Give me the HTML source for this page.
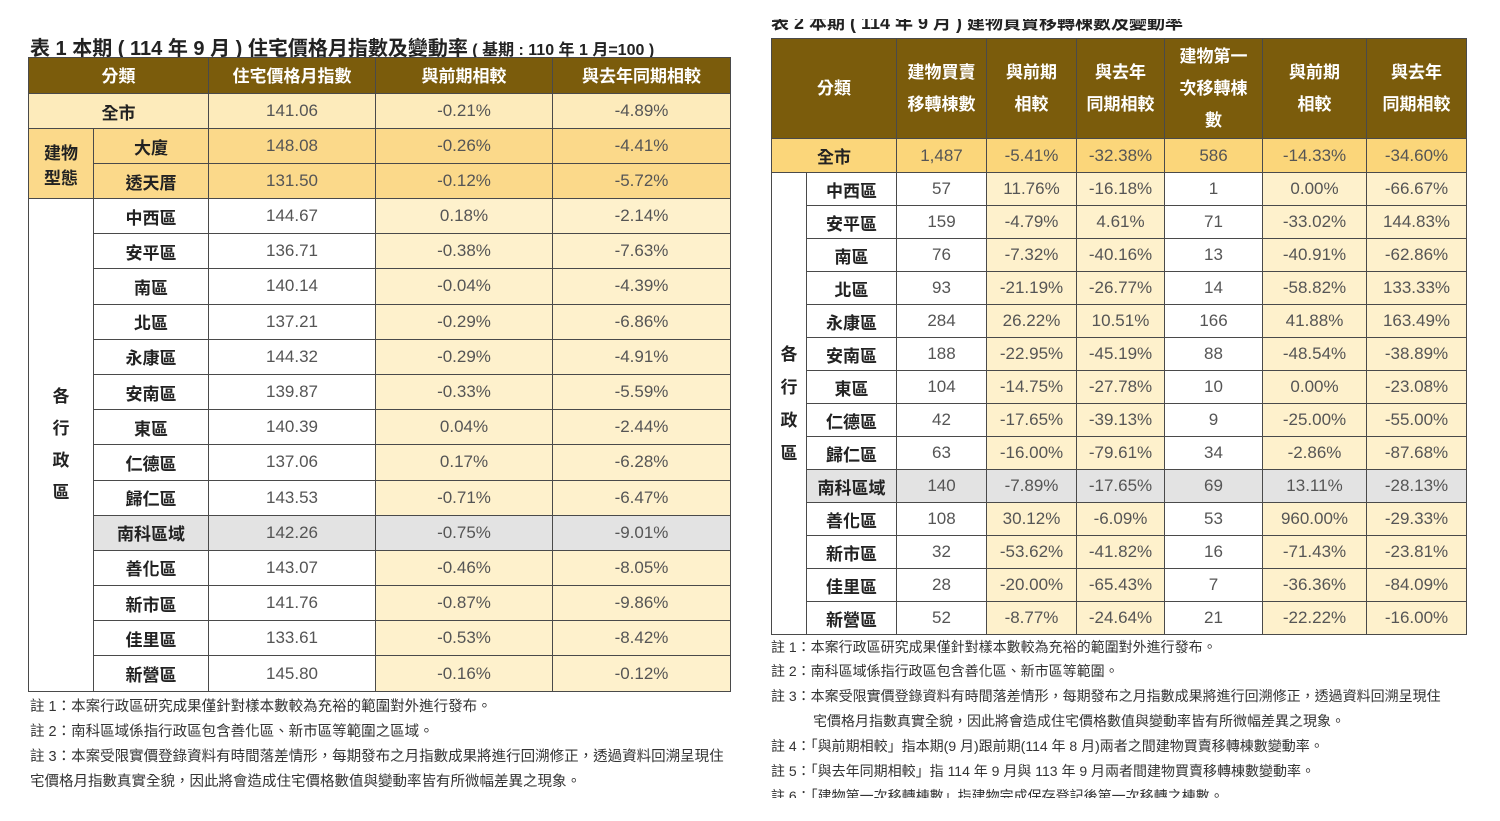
<!DOCTYPE html>
<html><head><meta charset="utf-8">
<style>
body{margin:0;width:1500px;height:821px;background:#fff;position:relative;overflow:hidden;font-family:"Liberation Sans","Noto Sans CJK TC",sans-serif}
.t{position:absolute;border-collapse:collapse;table-layout:fixed}
.t td{border:1px solid #4a4a4a;padding:0;text-align:center;vertical-align:middle;font-size:17px;color:#555;font-family:"Liberation Sans Narrow","Liberation Sans","Noto Sans CJK TC",sans-serif;white-space:nowrap}
.t td.h{background:#7b5c0c;color:#fff;font-weight:bold;font-size:17px;font-family:"Liberation Sans","Noto Sans CJK TC",sans-serif;line-height:32px}
.t td.l{color:#222;font-weight:bold;font-family:"Liberation Sans","Noto Sans CJK TC",sans-serif;font-size:17px}
.c{background:#fef1cc}
.y1{background:#fdebbb}
.y2{background:#fbd98a}
.y3{background:#fbd67a}
.g{background:#e3e3e3}
.ttl{position:absolute;font-weight:bold;color:#222;font-size:20px;white-space:nowrap}
.n{position:absolute;font-size:14.5px;color:#333;white-space:nowrap}
.n2{font-size:14px}
</style></head><body>
<div class="ttl" style="left:30px;top:32px">表 1 本期 ( 114 年 9 月 ) 住宅價格月指數及變動率<span style="font-size:16px"> ( 基期 : 110 年 1 月=100 )</span></div>
<div style="position:absolute;left:771px;top:19px;height:16px;width:500px;overflow:hidden"><div class="ttl" style="left:0;top:-10px;font-size:18px">表 2 本期 ( 114 年 9 月 ) 建物買賣移轉棟數及變動率</div></div>

<table class="t" id="t1" style="left:28px;top:57px;width:702px">
<colgroup><col style="width:65px"><col style="width:115px"><col style="width:167px"><col style="width:177px"><col style="width:178px"></colgroup>
<tbody id="t1b"><tr style="height:34px"><td class="h" colspan="2" style="padding-top:3px">分類</td><td class="h" style="padding-top:3px">住宅價格月指數</td><td class="h" style="padding-top:3px">與前期相較</td><td class="h" style="padding-top:3px">與去年同期相較</td></tr></tbody></table>

<table class="t" id="t2" style="left:771px;top:38px;width:695px">
<colgroup><col style="width:35px"><col style="width:90px"><col style="width:90px"><col style="width:90px"><col style="width:88px"><col style="width:98px"><col style="width:104px"><col style="width:100px"></colgroup>
<tbody id="t2b"><tr style="height:100px"><td class="h" colspan="2">分類</td><td class="h">建物買賣<br>移轉棟數</td><td class="h">與前期<br>相較</td><td class="h">與去年<br>同期相較</td><td class="h">建物第一<br>次移轉棟<br>數</td><td class="h">與前期<br>相較</td><td class="h">與去年<br>同期相較</td></tr></tbody></table>

<div class="n" style="left:30px;top:695px">註 1：本案行政區研究成果僅針對樣本數較為充裕的範圍對外進行發布。</div>
<div class="n" style="left:30px;top:720px">註 2：南科區域係指行政區包含善化區、新市區等範圍之區域。</div>
<div class="n" style="left:30px;top:745px">註 3：本案受限實價登錄資料有時間落差情形，每期發布之月指數成果將進行回溯修正，透過資料回溯呈現住</div>
<div class="n" style="left:30px;top:770px">宅價格月指數真實全貌，因此將會造成住宅價格數值與變動率皆有所微幅差異之現象。</div>

<div class="n n2" style="left:771px;top:637px">註 1：本案行政區研究成果僅針對樣本數較為充裕的範圍對外進行發布。</div>
<div class="n n2" style="left:771px;top:661px">註 2：南科區域係指行政區包含善化區、新市區等範圍。</div>
<div class="n n2" style="left:771px;top:686px">註 3：本案受限實價登錄資料有時間落差情形，每期發布之月指數成果將進行回溯修正，透過資料回溯呈現住</div>
<div class="n n2" style="left:813px;top:711px">宅價格月指數真實全貌，因此將會造成住宅價格數值與變動率皆有所微幅差異之現象。</div>
<div class="n n2" style="left:771px;top:736px">註 4：「與前期相較」指本期(9 月)跟前期(114 年 8 月)兩者之間建物買賣移轉棟數變動率。</div>
<div class="n n2" style="left:771px;top:761px">註 5：「與去年同期相較」指 114 年 9 月與 113 年 9 月兩者間建物買賣移轉棟數變動率。</div>
<div style="position:absolute;left:771px;top:786px;height:12px;width:720px;overflow:hidden"><div class="n n2" style="left:0;top:0">註 6：「建物第一次移轉棟數」指建物完成保存登記後第一次移轉之棟數。</div></div>

<script>
const t1Labels=["全市","大廈","透天厝","中西區","安平區","南區","北區","永康區","安南區","東區","仁德區","歸仁區","南科區域","善化區","新市區","佳里區","新營區"];
const t1Index=["141.06","148.08","131.50","144.67","136.71","140.14","137.21","144.32","139.87","140.39","137.06","143.53","142.26","143.07","141.76","133.61","145.80"];
const t1Prev=["-0.21%","-0.26%","-0.12%","0.18%","-0.38%","-0.04%","-0.29%","-0.29%","-0.33%","0.04%","0.17%","-0.71%","-0.75%","-0.46%","-0.87%","-0.53%","-0.16%"];
const t1Year=["-4.89%","-4.41%","-5.72%","-2.14%","-7.63%","-4.39%","-6.86%","-4.91%","-5.59%","-2.44%","-6.28%","-6.47%","-9.01%","-8.05%","-9.86%","-8.42%","-0.12%"];

const t2Labels=["全市","中西區","安平區","南區","北區","永康區","安南區","東區","仁德區","歸仁區","南科區域","善化區","新市區","佳里區","新營區"];
const t2Count=["1,487","57","159","76","93","284","188","104","42","63","140","108","32","28","52"];
const t2Prev=["-5.41%","11.76%","-4.79%","-7.32%","-21.19%","26.22%","-22.95%","-14.75%","-17.65%","-16.00%","-7.89%","30.12%","-53.62%","-20.00%","-8.77%"];
const t2Year=["-32.38%","-16.18%","4.61%","-40.16%","-26.77%","10.51%","-45.19%","-27.78%","-39.13%","-79.61%","-17.65%","-6.09%","-41.82%","-65.43%","-24.64%"];
const t2First=["586","1","71","13","14","166","88","10","9","34","69","53","16","7","21"];
const t2FPrev=["-14.33%","0.00%","-33.02%","-40.91%","-58.82%","41.88%","-48.54%","0.00%","-25.00%","-2.86%","13.11%","960.00%","-71.43%","-36.36%","-22.22%"];
const t2FYear=["-34.60%","-66.67%","144.83%","-62.86%","133.33%","163.49%","-38.89%","-23.08%","-55.00%","-87.68%","-28.13%","-29.33%","-23.81%","-84.09%","-16.00%"];

function cell(tr,txt,cls,attrs){const td=document.createElement('td');td.innerHTML=txt;if(cls)td.className=cls;if(attrs)for(const k in attrs)td.setAttribute(k,attrs[k]);tr.appendChild(td);return td;}
const b1=document.getElementById('t1b');
t1Labels.forEach((lab,i)=>{
  const tr=document.createElement('tr');
  
  
  tr.style.height=(i<3?35:35.2)+'px';
  let bg=i==0?'y1':(i<3?'y2':(lab=='南科區域'?'g':''));
  if(i==0){cell(tr,lab,'l '+bg,{colspan:2});}
  else{
    if(i==1)cell(tr,'建物<br>型態','l y2',{rowspan:2});
    if(i==3)cell(tr,'各<br><br>行<br><br>政<br><br>區','l',{rowspan:14}).style.lineHeight='16px';
    cell(tr,lab,'l '+bg);
  }
  cell(tr,t1Index[i],bg);
  cell(tr,t1Prev[i],bg||'c');
  cell(tr,t1Year[i],bg||'c');
  b1.appendChild(tr);
});
const b2=document.getElementById('t2b');
t2Labels.forEach((lab,i)=>{
  const tr=document.createElement('tr');
  
  
  tr.style.height=(i==0?34:33)+'px';
  let bg=i==0?'y3':(lab=='南科區域'?'g':'');
  if(i==0)cell(tr,lab,'l y3',{colspan:2});
  else{
    if(i==1)cell(tr,'各<br>行<br>政<br>區','l',{rowspan:14}).style.lineHeight='33px';
    cell(tr,lab,'l '+bg);
  }
  cell(tr,t2Count[i],bg);
  cell(tr,t2Prev[i],bg||'c');
  cell(tr,t2Year[i],bg||'c');
  cell(tr,t2First[i],bg);
  cell(tr,t2FPrev[i],bg||'c');
  cell(tr,t2FYear[i],bg||'c');
  b2.appendChild(tr);
});
</script>
</body></html>
